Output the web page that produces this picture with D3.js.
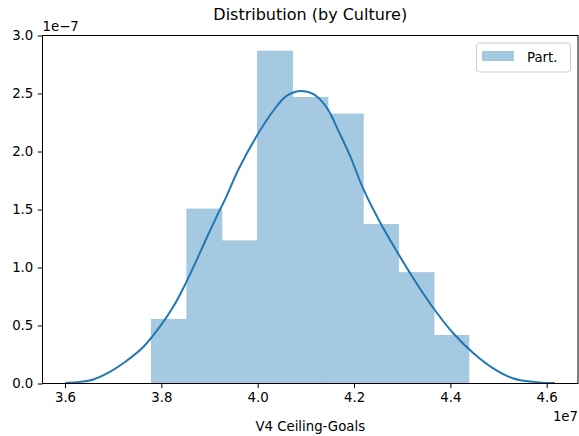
<!DOCTYPE html>
<html><head><meta charset="utf-8">
<script src="https://cdn.jsdelivr.net/npm/d3@7"></script>
<style>body{margin:0;background:#fff;} text{font-family:"DejaVu Sans",sans-serif;fill:#000;}</style>
</head><body>
<script>
// Histogram bin edges (units of 1e7) and densities (units of 1e-7)
const binEdges = [3.7785, 3.8519, 3.9253, 3.9987, 4.0721, 4.1455, 4.2189, 4.2923, 4.3657, 4.4393];
const binHeights = [0.556, 1.508, 1.234, 2.869, 2.47, 2.327, 1.375, 0.960, 0.418];
// KDE curve points
const kdeX = [3.600, 3.631, 3.659, 3.693, 3.728, 3.763, 3.797, 3.825, 3.849, 3.873, 3.894, 3.915, 3.936, 3.960, 3.998, 4.032, 4.060, 4.088, 4.116, 4.143, 4.171, 4.192, 4.219, 4.254, 4.289, 4.323, 4.365, 4.406, 4.448, 4.489, 4.531, 4.572, 4.617];
const kdeY = [0.005, 0.014, 0.035, 0.100, 0.196, 0.317, 0.490, 0.663, 0.850, 1.062, 1.254, 1.441, 1.620, 1.845, 2.133, 2.349, 2.479, 2.522, 2.494, 2.380, 2.148, 1.960, 1.680, 1.390, 1.138, 0.908, 0.649, 0.433, 0.260, 0.130, 0.043, 0.014, 0.004];
const xTicks = [3.6, 3.8, 4.0, 4.2, 4.4, 4.6];
const yTicks = [0.0, 0.5, 1.0, 1.5, 2.0, 2.5, 3.0];
const seriesName = "Part.";
const title = "Distribution (by Culture)";
const xLabel = "V4 Ceiling-Goals";

const W = 579, H = 436;
const L = 42.5, R = 578, T = 35.5, B = 383.5;
const svg = d3.select("body").append("svg").attr("width", W).attr("height", H);

const x = d3.scaleLinear().domain([3.6, 4.6]).range([65, 546.7]);
const xDom = [x.invert(L), x.invert(R)];
x.domain(xDom).range([L, R]);
const y = d3.scaleLinear().domain([0, 3.0]).range([B, T]);

const hist = binHeights.map((h, i) => ({x0: binEdges[i], x1: binEdges[i + 1], h}));
svg.append("g").selectAll("rect").data(hist).enter().append("rect")
  .attr("x", d => x(d.x0)).attr("width", (d, i) => x(d.x1) - x(d.x0) + (i < hist.length - 1 ? 0.6 : 0))
  .attr("y", d => y(d.h)).attr("height", d => y(0) - y(d.h))
  .attr("fill", "#a5c9e1");

const line = d3.line().x(d => x(d[0])).y(d => y(d[1])).curve(d3.curveCatmullRom.alpha(0.5));
svg.append("path").datum(kdeX.map((v, i) => [v, kdeY[i]]))
  .attr("d", line).attr("fill", "none").attr("stroke", "#1f77b4").attr("stroke-width", 2);

// axes
const xAxis = d3.axisBottom(x).tickValues(xTicks).tickFormat(d3.format(".1f")).tickSize(4.7).tickPadding(4.5);
const yAxis = d3.axisLeft(y).tickValues(yTicks).tickFormat(d3.format(".1f")).tickSize(4.7).tickPadding(4.5);
const gx = svg.append("g").attr("transform", `translate(0,${B})`).call(xAxis);
const gy = svg.append("g").attr("transform", `translate(${L},0)`).call(yAxis);
[gx, gy].forEach(g => {
  g.select(".domain").remove();
  g.selectAll("line").attr("stroke", "#000").attr("stroke-width", 1);
  g.selectAll("text").attr("font-size", "13.3px").attr("font-family", "DejaVu Sans").attr("fill", "#000");
});
// spines
svg.append("rect").attr("x", L).attr("y", T).attr("width", R - L).attr("height", B - T)
  .attr("fill", "none").attr("stroke", "#000").attr("stroke-width", 1);

// offset texts
svg.append("text").attr("x", L).attr("y", T - 5).attr("font-size", "13.3px").text("1e\u22127");
svg.append("text").attr("x", R).attr("y", 421).attr("text-anchor", "end").attr("font-size", "13.3px").text("1e7");

// title and label
svg.append("text").attr("x", (L + R) / 2).attr("y", 20).attr("text-anchor", "middle").attr("font-size", "16px").text(title);
svg.append("text").attr("x", (L + R) / 2).attr("y", 431).attr("text-anchor", "middle").attr("font-size", "13.3px").text(xLabel);

// legend
const lg = svg.append("g");
lg.append("rect").attr("x", 476.5).attr("y", 43).attr("width", 94).attr("height", 29).attr("rx", 3)
  .attr("fill", "#fff").attr("fill-opacity", 0.8).attr("stroke", "#ccc").attr("stroke-width", 1);
lg.append("rect").attr("x", 482).attr("y", 51).attr("width", 32).attr("height", 10)
  .attr("fill", "#a5c9e1");
lg.append("text").attr("x", 527).attr("y", 61.5).attr("font-size", "13.3px").text(seriesName);
</script>
</body></html>
